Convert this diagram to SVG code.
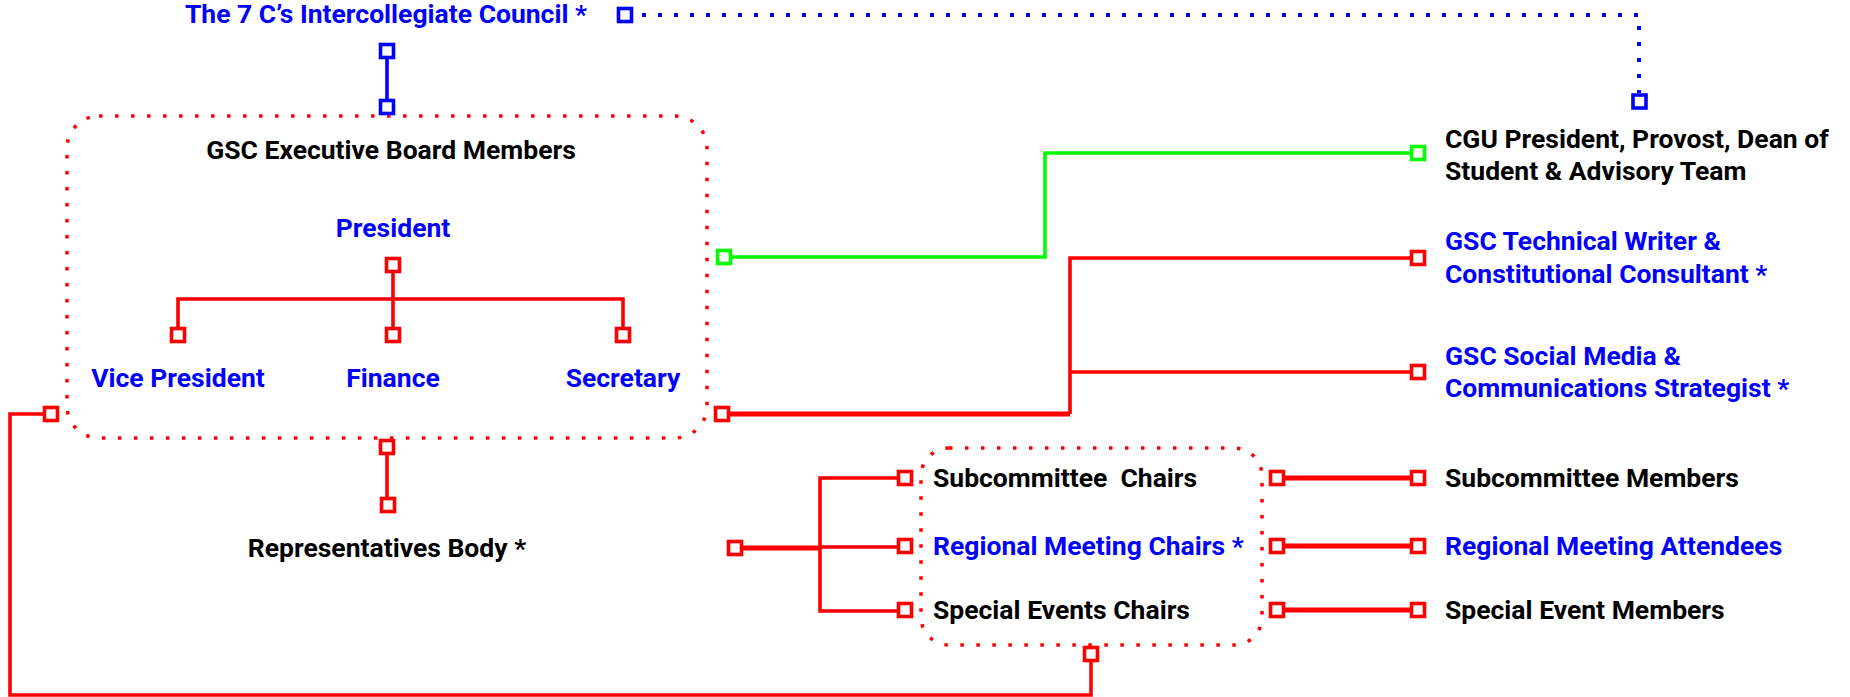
<svg xmlns="http://www.w3.org/2000/svg" width="1850" height="697" viewBox="0 0 1850 697">
<style>
text{font-family:Roboto,"Liberation Sans",sans-serif;font-weight:700;font-size:26.5px}
.b{fill:#0000ff}
.k{fill:#000}
.m{text-anchor:middle}
.sq{fill:#fff;stroke-width:3.6}
.r{stroke:#ff0000}
.bl{stroke:#0000ff}
.g{stroke:#00ff00}
.ln{fill:none;stroke-width:3.6}
.th{stroke-width:4.8}
.dot{fill:none;stroke-width:4;stroke-dasharray:4 12}
</style>
<rect width="1850" height="697" fill="#fff"/>
<g id="connectors">
<path class="dot bl" d="M642,15 H1639 V93"/>
<path class="ln bl" d="M387,59 V99"/>
<path class="ln r" d="M393,273 V299 M178,327 V299 H623 V327 M393,299 V327"/>
<path class="ln r" d="M43,414 H10 V695 H1091 V662"/>
<path class="ln r" d="M387,455 V497"/>
<path class="ln g" d="M732,257 H1045 V153 H1410"/>
<path class="ln r th" d="M730,414 H1070"/>
<path class="ln r" d="M1070,414 V258 H1410 M1070,372 H1410"/>
<path class="ln r th" d="M743,548 H820"/>
<path class="ln r" d="M898,478 H820 V611 H898 M820,547 H898"/>
<path class="ln r th" d="M1285,478 H1410 M1285,546 H1410 M1285,610 H1410"/>
</g>
<g id="council">
<text class="b m" x="386" y="23">The 7 C’s Intercollegiate Council *</text>
<rect class="sq bl" x="618.5" y="8.5" width="13" height="13"/>
<rect class="sq bl" x="380.5" y="44.5" width="13" height="13"/>
</g>
<g id="cgu">
<text class="k" x="1445" y="148">CGU President, Provost, Dean of</text>
<text class="k" x="1445" y="180">Student &amp; Advisory Team</text>
<rect class="sq bl" x="1633" y="95" width="13" height="13"/>
<rect class="sq g" x="1411.5" y="146.5" width="13" height="13"/>
</g>
<g id="exec-board">
<rect x="67" y="116" width="640" height="322" rx="32" fill="none" stroke="#ff0000" stroke-width="3.5" stroke-dasharray="3.5 12.5"/>
<text class="k m" x="391" y="159">GSC Executive Board Members</text>
<rect class="sq bl" x="380.5" y="100.5" width="13" height="13"/>
<rect class="sq g" x="717.5" y="250.5" width="13" height="13"/>
<rect class="sq r" x="715.5" y="407.5" width="13" height="13"/>
<rect class="sq r" x="44.5" y="407.5" width="13" height="13"/>
<rect class="sq r" x="380.5" y="440.5" width="13" height="13"/>
</g>
<g id="president">
<text class="b m" x="393" y="237">President</text>
<rect class="sq r" x="386.5" y="258.5" width="13" height="13"/>
</g>
<g id="vice-president">
<rect class="sq r" x="171.5" y="328.5" width="13" height="13"/>
<text class="b m" x="178" y="387">Vice President</text>
</g>
<g id="finance">
<rect class="sq r" x="386.5" y="328.5" width="13" height="13"/>
<text class="b m" x="393" y="387">Finance</text>
</g>
<g id="secretary">
<rect class="sq r" x="616.5" y="328.5" width="13" height="13"/>
<text class="b m" x="623" y="387">Secretary</text>
</g>
<g id="representatives">
<rect class="sq r" x="381.5" y="498.5" width="13" height="13"/>
<text class="k m" x="387" y="557">Representatives Body *</text>
</g>
<g id="tech-writer">
<rect class="sq r" x="1411.5" y="251.5" width="13" height="13"/>
<text class="b" x="1445" y="250">GSC Technical Writer &amp;</text>
<text class="b" x="1445" y="283">Constitutional Consultant *</text>
</g>
<g id="social-media">
<rect class="sq r" x="1411.5" y="365.5" width="13" height="13"/>
<text class="b" x="1445" y="365">GSC Social Media &amp;</text>
<text class="b" x="1445" y="397">Communications Strategist *</text>
</g>
<g id="chairs">
<rect x="921" y="448" width="341" height="197" rx="28" fill="none" stroke="#ff0000" stroke-width="3.5" stroke-dasharray="3.5 12.5"/>
<rect class="sq r" x="728.5" y="541.5" width="13" height="13"/>
<rect class="sq r" x="1084.5" y="647.5" width="13" height="13"/>
</g>
<g id="subcommittee-chairs">
<rect class="sq r" x="898.5" y="471.5" width="13" height="13"/>
<text class="k" x="933" y="487" xml:space="preserve">Subcommittee  Chairs</text>
<rect class="sq r" x="1270.5" y="471.5" width="13" height="13"/>
</g>
<g id="regional-chairs">
<rect class="sq r" x="898.5" y="539.5" width="13" height="13"/>
<text class="b" x="933" y="555">Regional Meeting Chairs *</text>
<rect class="sq r" x="1270.5" y="539.5" width="13" height="13"/>
</g>
<g id="special-chairs">
<rect class="sq r" x="898.5" y="603.5" width="13" height="13"/>
<text class="k" x="933" y="619">Special Events Chairs</text>
<rect class="sq r" x="1270.5" y="603.5" width="13" height="13"/>
</g>
<g id="subcommittee-members">
<rect class="sq r" x="1411.5" y="471.5" width="13" height="13"/>
<text class="k" x="1445" y="487">Subcommittee Members</text>
</g>
<g id="regional-attendees">
<rect class="sq r" x="1411.5" y="539.5" width="13" height="13"/>
<text class="b" x="1445" y="555">Regional Meeting Attendees</text>
</g>
<g id="special-members">
<rect class="sq r" x="1411.5" y="603.5" width="13" height="13"/>
<text class="k" x="1445" y="619">Special Event Members</text>
</g>
</svg>
